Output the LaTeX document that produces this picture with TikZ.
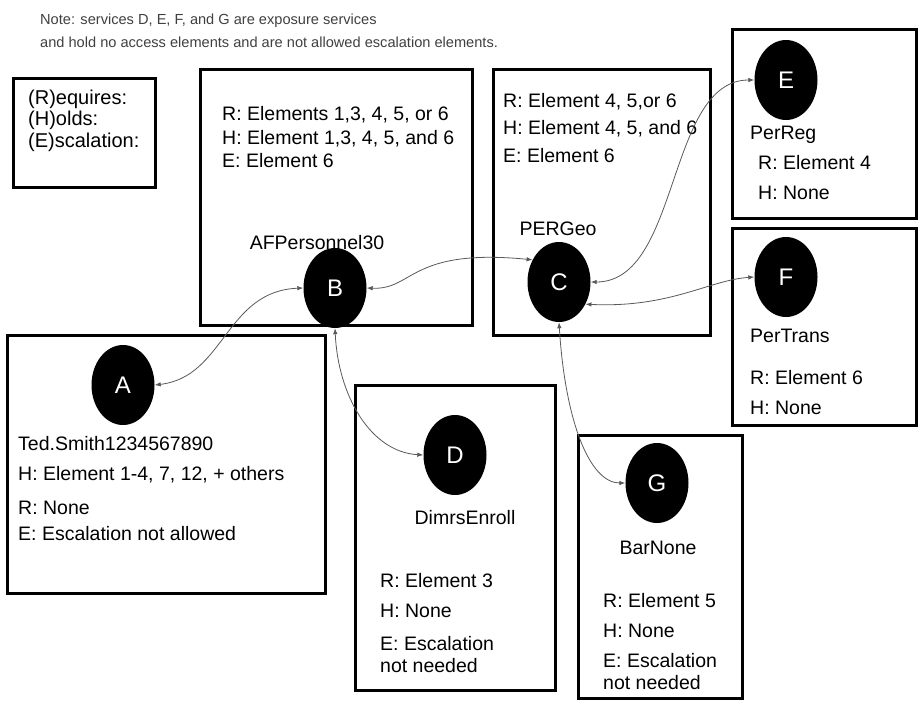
\documentclass[tikz,border=0pt]{standalone}
\usepackage{fontspec}
\setmainfont{Liberation Sans}
\usetikzlibrary{shapes.geometric,arrows.meta}

\begin{document}
\begin{tikzpicture}[x=1pt,y=-1pt,
  box/.style={draw=black, line width=3pt},
  svc/.style={ellipse, fill=black, text=white, minimum width=63pt, minimum height=80pt,
    inner sep=0pt, font=\fontsize{24}{28}\selectfont},
  txt/.style={anchor=base west, inner sep=0pt, text=black, font=\fontsize{19.5}{23}\selectfont},
  lbl/.style={anchor=base, inner sep=0pt, text=black, font=\fontsize{19.5}{23}\selectfont},
  notetxt/.style={anchor=base west, inner sep=0pt, text=black!75, font=\fontsize{14.6}{18}\selectfont},
  link/.style={{Latex[length=6pt,width=4.5pt]}-{Latex[length=6pt,width=4.5pt]}, draw=black!65, line width=0.8pt}]
\useasboundingbox (0,0) rectangle (918,701);

% note on top
\node[notetxt] (note1) at (40,25) {Note: services D, E, F, and G are exposure services};
\node[notetxt] (note2) at (40,48) {and hold no access elements and are not allowed escalation elements.};

% frames
\foreach \x/\y/\X/\Y in {13/78/155/187, 200/70/472/325, 493/70/710/335, 732/30/916/218,
  732/228/916/425, 7/335/325/593, 355/385/555/690, 578/435/742/698}
  \draw[box] (\x,\y) rectangle (\X,\Y);

% legend
\foreach \y/\lab [count=\i] in {104/(R)equires:, 125/(H)olds:, 147/(E)scalation:}
  \node[txt, font=\fontsize{20}{24}\selectfont] (key\i) at (28,\y) {\lab};

% services
\node[svc] (A) at (123,385) {A};
\node[svc] (B) at (335,288) {B};
\node[svc] (C) at (559,282) {C};
\node[svc] (D) at (455,455) {D};
\node[svc] (E) at (786,80) {E};
\node[svc] (F) at (786,277) {F};
\node[svc] (G) at (657,483) {G};

% service names
\node[lbl] (nameB) at (317,249) {AFPersonnel30};
\node[lbl] (nameC) at (558,235) {PERGeo};
\node[lbl] (nameD) at (465,524) {DimrsEnroll};
\node[lbl] (nameG) at (658,554) {BarNone};
\node[txt] (nameE) at (750,139) {PerReg};
\node[txt] (nameF) at (750,342) {PerTrans};
\node[txt] (nameA) at (18,450) {Ted.Smith1234567890};

% box texts
\foreach \y/\lab [count=\i] in {120/{R: Elements 1,3, 4, 5, or 6}, 144/{H: Element 1,3, 4, 5, and 6}, 167/{E: Element 6}}
  \node[txt] (infoB\i) at (222,\y) {\lab};
\foreach \y/\lab [count=\i] in {107/{R: Element 4, 5,or 6}, 134/{H: Element 4, 5, and 6}, 162/{E: Element 6}}
  \node[txt] (infoC\i) at (503,\y) {\lab};
\foreach \y/\lab [count=\i] in {169/{R: Element 4}, 199/{H: None}}
  \node[txt] (infoE\i) at (758,\y) {\lab};
\foreach \y/\lab [count=\i] in {384/{R: Element 6}, 414/{H: None}}
  \node[txt] (infoF\i) at (750,\y) {\lab};
\foreach \y/\lab [count=\i] in {480/{H: Element 1-4, 7, 12, + others}, 514/{R: None}, 540/{E: Escalation not allowed}}
  \node[txt] (infoA\i) at (18,\y) {\lab};
\foreach \y/\lab [count=\i] in {587/{R: Element 3}, 617/{H: None}, 650/{E: Escalation}, 672/{not needed}}
  \node[txt] (infoD\i) at (380,\y) {\lab};
\foreach \y/\lab [count=\i] in {607/{R: Element 5}, 637/{H: None}, 667/{E: Escalation}, 689/{not needed}}
  \node[txt] (infoG\i) at (603,\y) {\lab};

% links
\draw[link] (A.east) .. controls +(70,-8) and +(-78,3) .. (B.west);
\draw[link] (B.east) .. controls +(47,2) and +(-123,-12) .. (C.140);
\draw[link] (B.south) .. controls +(3,67) and +(-53,-3) .. (D.west);
\draw[link] (C.east) .. controls +(90,0) and +(-88,0) .. (E.west);
\draw[link] (C.-40) .. controls +(85,4) and +(-45,3) .. (F.west);
\draw[link] (C.south) .. controls +(6,98) and +(-36,0) .. (G.west);
\end{tikzpicture}
\end{document}
